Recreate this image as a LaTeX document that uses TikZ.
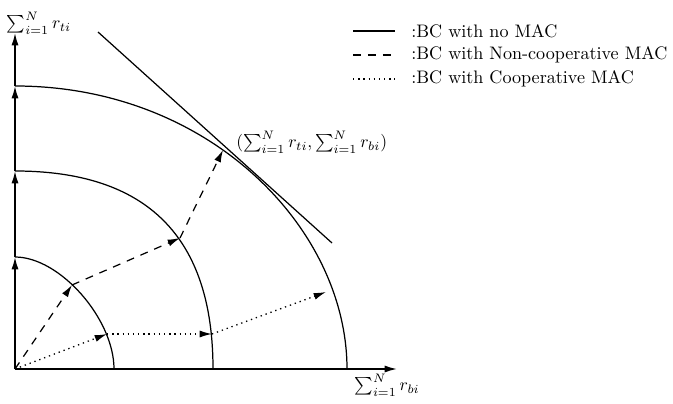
\documentclass[tikz,border=0pt]{standalone}
\usetikzlibrary{arrows.meta}
\tikzset{
  tip/.style={-{Latex[length=7pt,width=4pt]}},
  axisline/.style={tip, line width=0.9pt},
  nomac/.style={line width=0.7pt},
  ncmac/.style={line width=0.7pt, dash pattern=on 4.5pt off 4pt},
  cmac/.style={line width=0.75pt, dash pattern=on 0.75pt off 2.2pt},
}
\begin{document}
\begin{tikzpicture}[x=0.02cm, y=0.02cm]
  \useasboundingbox (-15,-34) rectangle (658,369);
  % axes
  \coordinate (O) at (0,0);
  \coordinate (ty1) at (0,112);
  \coordinate (ty2) at (0,198);
  \coordinate (ty3) at (0,283);
  \coordinate (ytop) at (0,336);
  \coordinate (bx1) at (99,0);
  \coordinate (bx2) at (198,0);
  \coordinate (bx3) at (332,0);
  \coordinate (xend) at (382,0);
  \foreach \a/\b in {O/ty1, ty1/ty2, ty2/ty3, ty3/ytop}
    \draw[axisline] (\a) -- (\b);
  \draw[axisline] (O) -- (xend);
  \node[inner sep=0pt] (ylab) at (24,346) {$\sum_{i=1}^N r_{ti}$};
  \node[inner sep=0pt] (xlab) at (372,-16) {$\sum_{i=1}^N r_{bi}$};
  % rate regions
  \draw[nomac] (ty1) .. controls (45,112) and (99,50) .. (bx1);
  \draw[nomac] (ty2) .. controls (132,198) and (198,132) .. (bx2);
  \draw[nomac] (ty3) .. controls (195,283) and (332,140) .. (bx3);
  % tangent
  \coordinate (ltop) at (83,337);
  \coordinate (lbot) at (317,126);
  \draw[nomac] (ltop) -- (lbot);
  % non-cooperative MAC
  \coordinate (a1) at (57,84);
  \coordinate (a2) at (165,131);
  \coordinate (a3) at (208,219);
  \foreach \a/\b in {O/a1, a1/a2, a2/a3}
    \draw[ncmac, tip] (\a) -- (\b);
  \node[anchor=west, inner sep=0pt] (pt) at (221,227)
    {$(\sum_{i=1}^N r_{ti}, \sum_{i=1}^N r_{bi})$};
  % cooperative MAC
  \coordinate (b1) at (92,35);
  \coordinate (b2) at (197,35);
  \coordinate (b3) at (311,77);
  \foreach \a/\b in {O/b1, b1/b2, b2/b3}
    \draw[cmac, tip] (\a) -- (\b);
  % legend
  \foreach \s/\t/\y in {nomac/{:BC with no MAC}/338,
      ncmac/{:BC with Non-cooperative MAC}/314,
      cmac/{:BC with Cooperative MAC}/290}{
    \draw[\s] (338,\y) -- (380,\y);
    \node[anchor=west, inner sep=0pt, font=\fontsize{10.3}{12.4}\selectfont]
      at (396,\y) {\t};
  }
\end{tikzpicture}
\end{document}
